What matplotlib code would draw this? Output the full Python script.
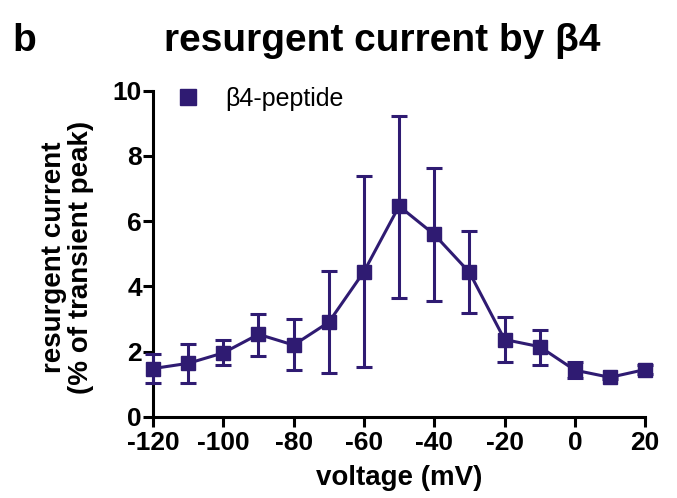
import matplotlib
matplotlib.use("Agg")
import matplotlib.pyplot as plt
from matplotlib.lines import Line2D

plt.rcParams['font.family'] = ['Liberation Sans', 'DejaVu Sans']

voltage = [-120, -110, -100, -90, -80, -70, -60, -50, -40, -30, -20, -10, 0, 10, 20]
mean = [1.48, 1.64, 1.96, 2.53, 2.20, 2.90, 4.45, 6.46, 5.59, 4.43, 2.37, 2.15, 1.43, 1.21, 1.45]
upper = [1.92, 2.23, 2.35, 3.15, 2.99, 4.47, 7.38, 9.23, 7.62, 5.70, 3.05, 2.66, 1.69, 1.26, 1.58]
lower = [1.05, 1.05, 1.59, 1.87, 1.45, 1.33, 1.53, 3.65, 3.55, 3.17, 1.67, 1.59, 1.18, 1.16, 1.32]

xticks = [-120, -100, -80, -60, -40, -20, 0, 20]
yticks = [0, 2, 4, 6, 8, 10]

color = '#2f1b72'

fig = plt.figure(figsize=(6.77, 4.98), dpi=100)
ax = fig.add_axes([0.226, 0.163, 0.727, 0.655])

yerr = [[m - l for m, l in zip(mean, lower)], [u - m for m, u in zip(mean, upper)]]
ax.errorbar(voltage, mean, yerr=yerr, color=color, marker='s', markersize=10,
            linewidth=2.2, elinewidth=2.2, capsize=5.5, capthick=2.2,
            clip_on=False, zorder=3)

ax.set_xlim(-120, 20)
ax.set_ylim(0, 10)
ax.set_xticks(xticks)
ax.set_yticks(yticks)
ax.set_xticklabels([str(t) for t in xticks], fontsize=19, fontweight='bold')
ax.set_yticklabels([str(t) for t in yticks], fontsize=19, fontweight='bold')
for s in ['top', 'right']:
    ax.spines[s].set_visible(False)
for s in ['left', 'bottom']:
    ax.spines[s].set_linewidth(2.2)
ax.tick_params(width=2.2, length=7, direction='out')
ax.tick_params(axis='y', pad=1)
ax.tick_params(axis='x', pad=3.5)

ax.set_xlabel('voltage (mV)', fontsize=20, fontweight='bold', labelpad=7)
ax.set_ylabel('resurgent current\n(% of transient peak)', fontsize=20, fontweight='bold',
              linespacing=1.05)
ax.yaxis.set_label_coords(-0.12, 0.49)

handle = Line2D([], [], color=color, marker='s', markersize=11, linestyle='none')
leg = ax.legend([handle], ['β4-peptide'], loc='center left', bbox_to_anchor=(0.046, 0.975),
                frameon=False, fontsize=18, handlelength=1.0, handletextpad=1.0,
                borderpad=0, borderaxespad=0)

fig.text(0.018, 0.898, 'b', fontsize=28, fontweight='bold', va='baseline')
fig.text(0.565, 0.898, 'resurgent current by β4', fontsize=28, fontweight='bold',
         ha='center', va='baseline')

fig.savefig('out.png', dpi=100)
